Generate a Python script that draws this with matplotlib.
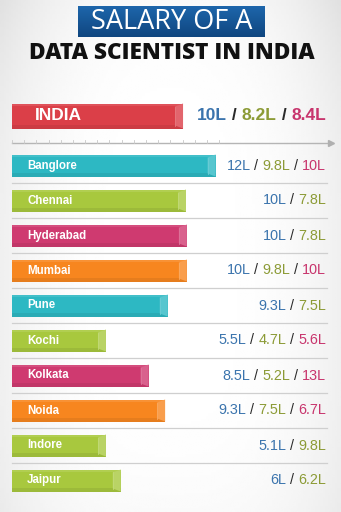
import numpy as np
import matplotlib
matplotlib.use("Agg")
import matplotlib.pyplot as plt
from matplotlib.patches import Rectangle, Polygon

# ---------------- data ----------------
cities = ["Banglore", "Chennai", "Hyderabad", "Mumbai", "Pune",
          "Kochi", "Kolkata", "Noida", "Indore", "Jaipur"]
bar_len = [11.7, 10.0, 10.05, 10.05, 8.95, 5.4, 7.85, 8.8, 5.4, 6.25]
sal_1 = ["12L", "10L", "10L", "10L", "9.3L", "5.5L", "8.5L", "9.3L", "5.1L", "6L"]
sal_2 = ["9.8L", "7.8L", "7.8L", "9.8L", "7.5L", "4.7L", "5.2L", "7.5L", "9.8L", "6.2L"]
sal_3 = ["10L", None, None, "10L", None, "5.6L", "13L", "6.7L", None, None]
bar_kind = ["teal", "lime", "pink", "orange", "teal",
            "lime", "pink", "orange", "lime", "lime"]

india_label = "INDIA"
india_len = 9.83
india_sal = ["10L", "8.2L", "8.4L"]

# ---------------- style ----------------
W, H, DPI = 341, 512, 100
PX_PER_L = 17.4
ROW_PX = 35.0
ROW0_PX = 165.5
LEFT_PX = 12

palette = {
    "teal": "#2db8c3",
    "lime": "#a8c83e",
    "pink": "#cf3a70",
    "orange": "#f7861f",
    "red": "#db3f48",
}
val_colors = ["#3b74ad", "#8c9b36", "#c8356d"]
slash_color = "#2a2a2a"


def shade(hexc, f):
    c = np.array(matplotlib.colors.to_rgb(hexc))
    if f >= 0:
        c = c + (1 - c) * f
    else:
        c = c * (1 + f)
    return tuple(np.clip(c, 0, 1))


fig = plt.figure(figsize=(W / DPI, H / DPI), dpi=DPI)
fig.patch.set_facecolor("white")

ax = fig.add_axes([0, 0, 1, 1])
x0 = -LEFT_PX / PX_PER_L
x1 = (W - LEFT_PX) / PX_PER_L
y_top = -ROW0_PX / ROW_PX
y_bot = (H - ROW0_PX) / ROW_PX
ax.set_xlim(x0, x1)
ax.set_ylim(y_bot, y_top)
ax.axis("off")

# background vignette
yy, xx = np.mgrid[-1:1:200j, -1:1:140j]
vign = 1 - 0.06 * (np.abs(xx) ** 3) - 0.04 * (np.clip(-yy, 0, 1) ** 2) * (np.abs(xx) ** 2) - 0.02 * (yy ** 4)
ax.imshow(vign, extent=(x0, x1, y_bot, y_top), cmap="gray", vmin=0, vmax=1,
          aspect="auto", zorder=0, interpolation="bilinear")

px_x = 1 / PX_PER_L   # one pixel in x data units
px_y = 1 / ROW_PX     # one pixel in y data units


def draw_bar(y, length, color, h):
    top = y - h / 2
    ax.add_patch(Rectangle((0, top), length, h, facecolor=color, edgecolor="none", zorder=3))
    # slightly darker bottom strip
    ax.add_patch(Rectangle((0, top + h * 0.84), length, h * 0.16,
                           facecolor=shade(color, -0.07), edgecolor="none", zorder=3))
    # light top highlight
    ax.add_patch(Rectangle((0, top), length, h * 0.1,
                           facecolor=shade(color, 0.1), edgecolor="none", zorder=3))
    # bevelled end cap
    cap = 8 * px_x
    dy = 3 * px_y
    ax.add_patch(Polygon([(length - cap, top + dy), (length, top), (length, top + h),
                          (length - cap, top + h - dy)],
                         closed=True, facecolor=shade(color, 0.2), edgecolor="none", zorder=4))
    ax.plot([length - cap, length - cap], [top + dy, top + h - dy],
            color=shade(color, 0.3), lw=0.6, zorder=4)


renderer = fig.canvas.get_renderer()


def right_colored_text(x, y, pieces, size, weight):
    """pieces: list of (string, color); right-aligned at data x."""
    trans = ax.transData
    cur_x_disp = trans.transform((x, y))[0]
    y_disp = trans.transform((x, y))[1]
    for s, c in reversed(pieces):
        t = fig.text(cur_x_disp / (W), y_disp / (H), s, color=c, fontsize=size,
                     fontweight=weight, ha="right", va="center",
                     family=["Liberation Sans", "DejaVu Sans"], zorder=6)
        bb = t.get_window_extent(renderer=renderer)
        cur_x_disp = bb.x0


VAL_X = (326 - LEFT_PX) / PX_PER_L

# India row
y_india = (116 - ROW0_PX) / ROW_PX
draw_bar(y_india, india_len, palette["red"], 25 / ROW_PX)
ax.text(23 * px_x, y_india, india_label, color="white", fontsize=12.5, fontweight="bold",
        va="center", ha="left", family=["Liberation Sans"], zorder=6)
pieces = []
for i, v in enumerate(india_sal):
    if i:
        pieces.append((" / ", slash_color))
    pieces.append((v, val_colors[i]))
right_colored_text(VAL_X, y_india, pieces, 12.5, "bold")

# axis line with ticks
y_axis = (143 - ROW0_PX) / ROW_PX
ax.plot([0, (331 - LEFT_PX) / PX_PER_L], [y_axis, y_axis], color="#b5b5b5", lw=1.0, zorder=2)
ax.plot([(331 - LEFT_PX) / PX_PER_L], [y_axis], marker=">", color="#b0b0b0", markersize=4, zorder=2)
for tx in np.arange(0, 12.0, 0.7):
    ax.plot([tx, tx], [y_axis, y_axis - 3 * px_y], color="#c8c8c8", lw=0.6, zorder=2)

# separators
sep_right = (327 - LEFT_PX) / PX_PER_L
for r in range(len(cities) - 1):
    ax.plot([0, sep_right], [r + 0.5, r + 0.5], color="#cfcfcf", lw=0.9, zorder=2)

# city rows
for r, city in enumerate(cities):
    draw_bar(r, bar_len[r], palette[bar_kind[r]], 22 / ROW_PX)
    ax.text(15 * px_x, r, city, color="white", fontsize=8.3, fontweight="bold",
            va="center", ha="left", family=["Liberation Sans"], zorder=6)
    vals = [sal_1[r], sal_2[r], sal_3[r]]
    pieces = []
    for i, v in enumerate(vals):
        if v is None:
            continue
        if pieces:
            pieces.append((" / ", slash_color))
        pieces.append((v, val_colors[i]))
    right_colored_text(VAL_X, r, pieces, 10.4, "normal")

# ---------------- title ----------------
tax = fig.add_axes([78 / W, 1 - 37 / H, 187 / W, 31 / H])
grad = np.linspace(0, 1, 50).reshape(-1, 1)
tcmap = matplotlib.colors.LinearSegmentedColormap.from_list("tb", ["#1e66ab", "#0f4680"])
tax.imshow(grad, aspect="auto", cmap=tcmap, extent=(0, 1, 0, 1), origin="upper")
tax.set_xlim(0, 1)
tax.set_ylim(0, 1)
tax.axis("off")
tax.text(0.5, 0.47, "SALARY OF A", color="white", fontsize=19.5, ha="center", va="center",
         family=["Open Sans", "DejaVu Sans"])

fig.text(172 / W, 1 - 53 / H, "DATA SCIENTIST IN INDIA", color="#111111", fontsize=16.3,
         fontweight="heavy", ha="center", va="center", family=["Open Sans", "DejaVu Sans"])

fig.savefig("out.png", dpi=DPI)
